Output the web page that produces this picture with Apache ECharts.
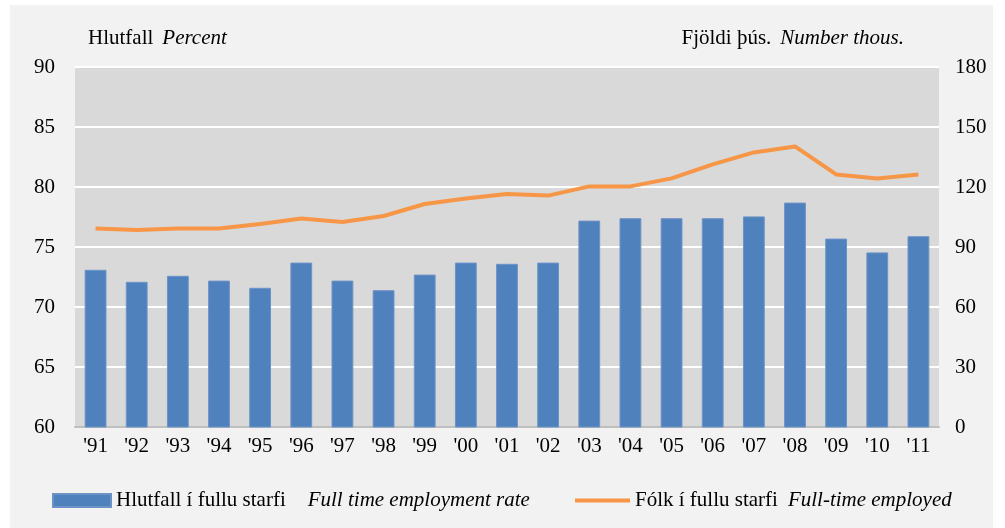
<!DOCTYPE html>
<html>
<head>
<meta charset="utf-8">
<script src="https://cdn.jsdelivr.net/npm/echarts@6/dist/echarts.min.js"></script>
<style>
  html, body { margin: 0; padding: 0; background: #ffffff; }
  #frame { position: absolute; left: 10px; top: 5px; width: 983px; height: 523px; background: #f2f2f2; }
  #main { position: absolute; left: 0; top: 0; width: 1005px; height: 528px; }
</style>
</head>
<body>
<div id="frame"></div>
<div id="main"></div>
<script>
// ár / years
var years = ["'91", "'92", "'93", "'94", "'95", "'96", "'97", "'98", "'99", "'00", "'01",
  "'02", "'03", "'04", "'05", "'06", "'07", "'08", "'09", "'10", "'11"];

// Hlutfall í fullu starfi (%)
var rateValues = [73.1, 72.1, 72.6, 72.2, 71.6, 73.7, 72.2, 71.4, 72.7, 73.7, 73.6,
  73.7, 77.2, 77.4, 77.4, 77.4, 77.55, 78.7, 75.7, 74.55, 75.9];

// Fólk í fullu starfi (þús.)
var employedValues = [99.3, 98.5, 99.2, 99.3, 101.5, 104.3, 102.5, 105.5, 111.5, 114.3, 116.5,
  115.7, 120.3, 120.3, 124.3, 131.3, 137.3, 140.3, 126.3, 124.3, 126.3];

var FONT = '"Liberation Serif", "DejaVu Serif", serif';
var SIZE = 21;

var normal = { fontFamily: FONT, fontSize: SIZE, fontWeight: 'normal', color: '#000' };
var italic = { fontFamily: FONT, fontSize: SIZE, fontWeight: 'normal', fontStyle: 'italic', color: '#000' };

var chart = echarts.init(document.getElementById('main'), null, { renderer: 'canvas' });

var option = {
  animation: false,
  backgroundColor: 'transparent',
  textStyle: { fontFamily: FONT, color: '#000' },
  title: [
    {
      left: 83, top: 23,
      text: '{a|Hlutfall}  {b|Percent}',
      textStyle: { fontWeight: 'normal', rich: { a: normal, b: italic } }
    },
    {
      right: 96, top: 23,
      text: '{a|Fjöldi þús.}  {b|Number thous.}',
      textStyle: { fontWeight: 'normal', rich: { a: normal, b: italic } }
    }
  ],
  legend: [
    {
      left: 47, top: 485,
      itemWidth: 58, itemHeight: 13,
      data: [{ name: 'Hlutfall í fullu starfi', icon: 'rect' }],
      formatter: function (name) {
        return '{a|' + name + '}{b|Full time employment rate}';
      },
      textStyle: {
        rich: {
          a: normal,
          b: Object.assign({}, italic, { padding: [0, 0, 0, 22] })
        }
      }
    },
    {
      left: 570, top: 485,
      itemWidth: 55, itemHeight: 4,
      data: [{ name: 'Fólk í fullu starfi', icon: 'rect' }],
      formatter: function (name) {
        return '{a|' + name + '}{b|Full-time employed}';
      },
      textStyle: {
        rich: {
          a: normal,
          b: Object.assign({}, italic, { padding: [0, 0, 0, 10] })
        }
      }
    }
  ],
  grid: {
    left: 75, right: 66, top: 67, bottom: 101,
    show: true,
    backgroundColor: '#d9d9d9',
    borderWidth: 0
  },
  xAxis: {
    type: 'category',
    data: years,
    axisTick: { show: false },
    axisLine: { lineStyle: { color: '#bfbfbf', width: 2 } },
    axisLabel: { fontFamily: FONT, fontSize: SIZE, color: '#000', margin: 9 }
  },
  yAxis: [
    {
      type: 'value',
      min: 60, max: 90, interval: 5,
      axisLine: { show: false },
      axisTick: { show: false },
      splitLine: { lineStyle: { color: '#ffffff', width: 2 } },
      axisLabel: { fontFamily: FONT, fontSize: SIZE, color: '#000', margin: 20 }
    },
    {
      type: 'value',
      min: 0, max: 180, interval: 30,
      axisLine: { show: false },
      axisTick: { show: false },
      splitLine: { show: false },
      axisLabel: { fontFamily: FONT, fontSize: SIZE, color: '#000', margin: 16 }
    }
  ],
  series: [
    {
      name: 'Hlutfall í fullu starfi',
      type: 'bar',
      yAxisIndex: 0,
      barWidth: '53%',
      itemStyle: { color: '#4f81bd', borderColor: '#6d93c6', borderWidth: 1 },
      data: rateValues
    },
    {
      name: 'Fólk í fullu starfi',
      type: 'line',
      yAxisIndex: 1,
      symbol: 'none',
      lineStyle: { color: '#f79646', width: 4 },
      itemStyle: { color: '#f79646' },
      data: employedValues
    }
  ]
};

chart.setOption(option);
</script>
</body>
</html>
